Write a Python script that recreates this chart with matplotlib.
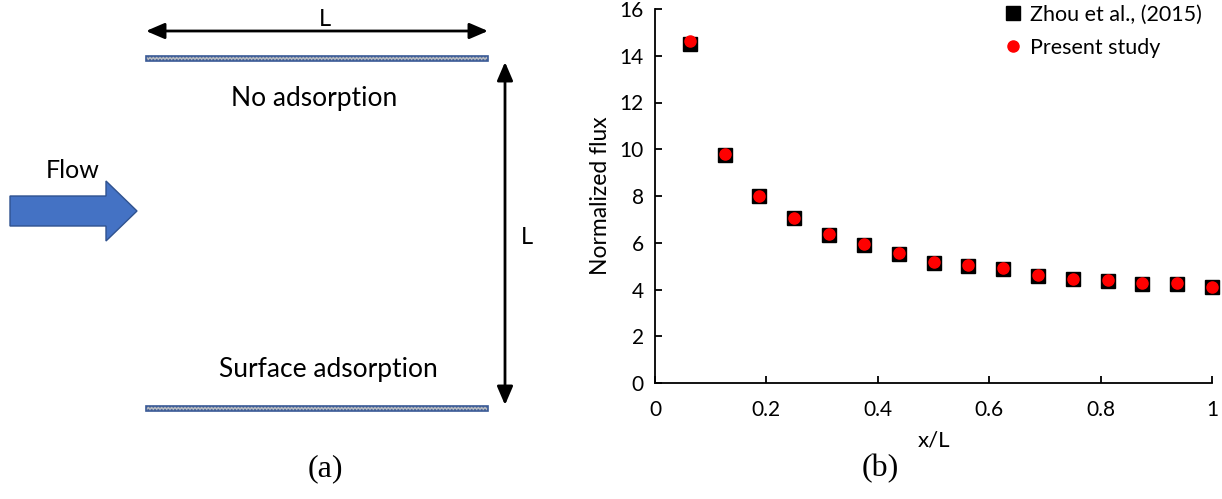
import matplotlib
matplotlib.use("Agg")
import matplotlib.pyplot as plt
from matplotlib.patches import Rectangle, Polygon

# ---- data ----
x_over_L = [1/16, 2/16, 3/16, 4/16, 5/16, 6/16, 7/16, 8/16,
            9/16, 10/16, 11/16, 12/16, 13/16, 14/16, 15/16, 16/16]
zhou_flux = [14.52, 9.75, 8.00, 7.05, 6.35, 5.90, 5.53, 5.15,
             5.02, 4.88, 4.58, 4.45, 4.37, 4.24, 4.24, 4.09]
present_flux = [14.61, 9.79, 8.02, 7.07, 6.37, 5.93, 5.58, 5.18,
                5.04, 4.90, 4.61, 4.47, 4.40, 4.26, 4.26, 4.11]
x_ticks = [0, 0.2, 0.4, 0.6, 0.8, 1]
x_tick_labels = ["0", "0.2", "0.4", "0.6", "0.8", "1"]
y_ticks = [0, 2, 4, 6, 8, 10, 12, 14, 16]

FONT = ["Lato", "DejaVu Sans"]
plt.rcParams['font.family'] = FONT

W, H = 1222, 499
fig = plt.figure(figsize=(W/100, H/100), dpi=100)

# ---- panel (a): diagram in pixel coordinates ----
ax0 = fig.add_axes([0, 0, 1, 1])
ax0.set_xlim(0, W)
ax0.set_ylim(H, 0)
ax0.axis('off')

plate_kw = dict(facecolor='#b4b8be', edgecolor='#3a5a96', linewidth=1.2, hatch='.....')
ax0.add_patch(Rectangle((146, 56), 342, 5, **plate_kw))
ax0.add_patch(Rectangle((146, 406), 342, 5, **plate_kw))

ax0.annotate('', xy=(146, 31), xytext=(488, 31),
             arrowprops=dict(arrowstyle='<|-|>,head_length=0.7,head_width=0.3', color='black',
                             lw=2, mutation_scale=16, shrinkA=0, shrinkB=0))
ax0.text(325, 19, 'L', ha='center', va='center', fontsize=17)

ax0.annotate('', xy=(505, 62), xytext=(505, 405),
             arrowprops=dict(arrowstyle='<|-|>,head_length=0.7,head_width=0.3', color='black',
                             lw=2, mutation_scale=16, shrinkA=0, shrinkB=0))
ax0.text(527, 237, 'L', ha='center', va='center', fontsize=17)

ax0.text(314, 98, 'No adsorption', ha='center', va='center', fontsize=19)
ax0.text(328, 370, 'Surface adsorption', ha='center', va='center', fontsize=19)
ax0.text(73, 170, 'Flow', ha='center', va='center', fontsize=18)

arrow_pts = [(10, 196), (106, 196), (106, 181), (137, 211), (106, 241), (106, 226), (10, 226)]
ax0.add_patch(Polygon(arrow_pts, closed=True, facecolor='#4472c4', edgecolor='#2f528f', lw=1))

ax0.text(325, 469, '(a)', ha='center', va='center', fontsize=23, family='Liberation Serif')
ax0.text(880, 469, '(b)', ha='center', va='center', fontsize=23, family='Liberation Serif')

# ---- panel (b): chart ----
ax = fig.add_axes([655/W, 1-383/H, (1212-655)/W, (383-9)/H])
ax.plot(x_over_L, zhou_flux, linestyle='none', marker='s', ms=9.5, color='black',
        label='Zhou et al., (2015)', zorder=3, clip_on=False)
ax.plot(x_over_L, present_flux, linestyle='none', marker='o', ms=8, color='#ff0000',
        label='Present study', zorder=4, clip_on=False)

ax.set_xlim(0, 1)
ax.set_ylim(0, 16)
ax.set_xticks(x_ticks)
ax.set_xticklabels(x_tick_labels)
ax.set_yticks(y_ticks)
ax.tick_params(direction='in', length=5, width=1.3, labelsize=15)
ax.tick_params(axis='x', pad=12)
ax.tick_params(axis='y', pad=8)
for s in ['top', 'right']:
    ax.spines[s].set_visible(False)
for s in ['left', 'bottom']:
    ax.spines[s].set_linewidth(1.3)
ax.set_xlabel('x/L', fontsize=16, labelpad=8)
ax.set_ylabel('Normalized flux', fontsize=16.5, labelpad=6)
ax.patch.set_alpha(0)

leg = ax.legend(loc='upper right', frameon=False, fontsize=15.5, handlelength=0.8,
                handletextpad=0.4, borderaxespad=0.0, labelspacing=0.62,
                bbox_to_anchor=(0.997, 1.035))

fig.savefig('out.png', dpi=100)
